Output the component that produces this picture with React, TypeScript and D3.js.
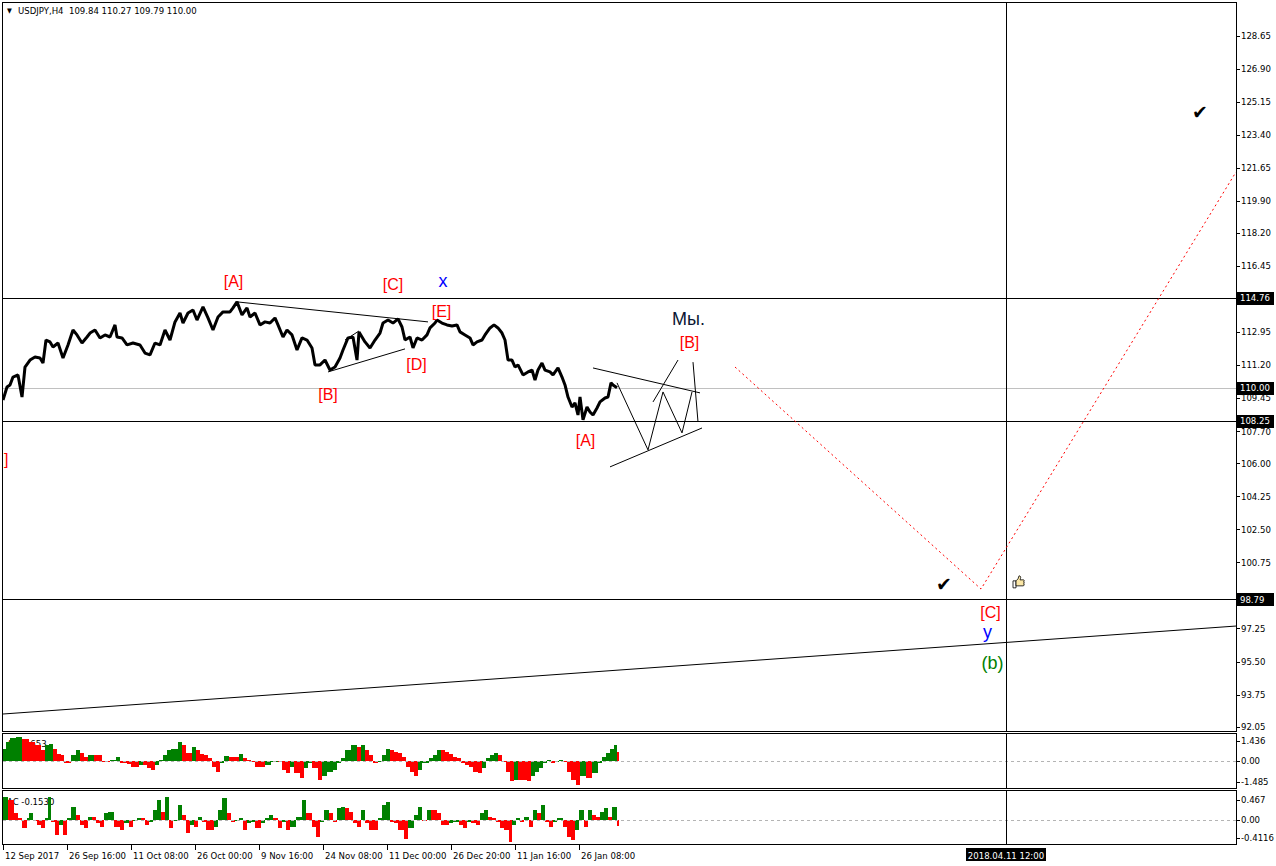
import React from 'react';
import * as d3 from 'd3';

const RED = '#ff0000';
const BLUE = '#0000ff';
const GREEN = '#008000';
const NAVY = '#0b1633';

// [bar index, price]
const priceSeries: [number, number][] = [
  [0,109.35],[4,110.04],[7,110.15],[10,110.57],[15,110.68],[19,109.51],[22,111.10],[27,111.47],[32,111.63],[37,111.58],
  [40,111.31],[43,112.53],[47,112.43],[50,112.16],[55,112.37],[60,111.58],[65,112.27],[70,113.06],[74,112.80],[79,112.37],
  [84,112.69],[87,112.90],[92,113.06],[97,112.64],[102,112.80],[107,112.69],[112,113.33],[114,112.69],[119,112.64],[124,112.27],
  [130,112.37],[137,112.27],[142,111.84],[147,111.74],[152,112.37],[157,112.27],[162,113.06],[167,112.53],[172,113.49],[177,113.96],
  [180,113.43],[185,113.96],[190,114.12],[194,113.59],[200,114.28],[205,113.70],[210,113.06],[215,113.75],[220,114.02],[227,114.02],
  [230,114.23],[234,114.55],[239,113.86],[244,114.23],[247,113.75],[252,113.96],[257,113.33],[262,113.49],[267,113.43],[272,113.70],
  [275,113.33],[280,112.69],[284,113.06],[289,112.80],[294,112.00],[299,112.64],[304,112.53],[309,112.11],[312,111.21],[317,111.21],
  [322,111.47],[327,110.94],[332,111.10],[337,111.58],[340,112.00],[345,112.64],[350,112.69],[354,111.47],[356,112.96],[362,112.43],
  [367,112.11],[372,112.53],[377,112.90],[380,113.43],[385,113.59],[390,113.43],[395,113.65],[399,113.22],[402,112.53],[407,112.69],
  [410,112.11],[414,112.64],[419,112.53],[424,112.80],[427,113.17],[432,113.43],[434,113.59],[439,113.43],[444,113.33],[449,113.27],
  [454,113.33],[457,112.96],[462,112.80],[467,112.64],[470,112.27],[474,112.43],[479,112.53],[482,112.80],[487,113.17],[491,113.33],
  [495,113.17],[499,112.90],[502,112.53],[505,111.47],[509,111.47],[512,111.10],[515,111.21],[520,110.68],[525,110.84],[529,110.94],
  [532,110.41],[535,110.94],[539,111.31],[542,110.94],[547,110.84],[550,110.68],[555,111.05],[559,110.57],[562,110.15],[565,109.51],
  [569,108.98],[572,109.20],[575,108.56],[577,109.51],[580,108.30],[584,108.98],[587,108.72],[590,108.56],[594,108.93],[597,109.25],
  [602,109.46],[605,109.51],[608,110.26],[610,110.15],[614,110.00],
];

// Awesome Oscillator [bar, value]
const aoSeries: [number, number][] = [
  [0,0.89],[3,1.36],[7,1.67],[13,1.71],[19,1.60],[26,1.36],[32,1.13],[38,0.77],[42,1.13],[46,1.24],
  [50,0.89],[54,0.49],[58,0.42],[61,-0.16],[64,-0.16],[68,0.42],[73,0.77],[77,0.54],[81,0.31],[85,0.42],
  [91,0.42],[95,0.42],[99,-0.05],[103,-0.05],[107,0.07],[113,0.26],[117,-0.16],[124,-0.21],[128,-0.40],[136,-0.28],
  [140,-0.28],[144,-0.52],[148,-0.63],[152,-0.28],[156,0.07],[160,0.42],[164,0.77],[168,0.89],[175,1.36],[179,1.13],
  [183,0.54],[189,1.01],[193,0.77],[197,0.49],[201,0.42],[205,0.19],[209,-0.40],[213,-0.75],[217,-0.16],[221,0.35],
  [226,0.31],[232,0.31],[236,0.49],[240,0.19],[244,0.07],[248,-0.09],[252,-0.40],[256,-0.40],[262,-0.28],[268,-0.05],
  [275,-0.05],[279,-0.63],[283,-0.87],[287,-0.40],[291,-0.87],[297,-1.22],[301,-0.52],[305,-0.16],[309,-0.52],[315,-1.34],
  [319,-1.10],[324,-0.75],[330,-0.63],[334,-0.16],[338,0.19],[342,0.77],[348,1.13],[354,1.01],[358,1.13],[362,0.77],
  [366,0.42],[370,-0.16],[375,-0.05],[379,0.42],[383,0.89],[387,0.82],[391,0.66],[395,0.54],[399,0.31],[403,-0.40],
  [407,-0.75],[411,-1.10],[415,-0.63],[419,-0.16],[426,0.19],[430,0.42],[434,0.77],[438,0.77],[442,0.66],[446,0.49],
  [450,0.31],[454,0.19],[458,-0.16],[462,-0.28],[466,-0.40],[470,-0.75],[475,-0.87],[479,-0.52],[483,0.19],[487,0.42],
  [491,0.59],[495,0.42],[499,-0.05],[503,-0.75],[507,-1.46],[511,-1.34],[515,-1.34],[519,-1.34],[524,-1.46],[528,-1.10],
  [532,-0.75],[536,-0.52],[540,-0.16],[544,0.07],[548,-0.16],[552,-0.05],[556,0.07],[560,-0.05],[564,-0.75],[568,-1.34],
  [573,-1.69],[577,-1.10],[583,-1.22],[589,-0.87],[595,-0.16],[599,0.31],[603,0.54],[607,0.89],[611,1.13],[614,0.65],
];

// Accelerator Oscillator [bar, value]
const acSeries: [number, number][] = [
  [0,0.54],[5,0.47],[11,0.16],[15,0.04],[19,-0.19],[24,0.04],[26,0.16],[30,0.00],[34,-0.12],[38,-0.19],
  [42,0.04],[45,0.54],[48,-0.04],[52,-0.35],[56,-0.12],[60,-0.35],[64,0.04],[68,0.31],[73,0.12],[77,-0.12],
  [81,-0.19],[85,0.08],[89,0.08],[93,-0.08],[97,-0.16],[101,0.16],[105,0.19],[111,-0.16],[117,-0.23],[121,-0.08],
  [126,-0.16],[130,0.00],[134,0.04],[138,0.04],[142,-0.12],[146,-0.04],[150,0.23],[154,0.47],[158,0.19],[162,0.54],
  [166,-0.19],[170,0.00],[175,0.35],[179,0.12],[183,-0.31],[187,-0.12],[191,-0.16],[195,0.08],[199,-0.04],[203,-0.23],
  [207,-0.23],[211,-0.16],[215,0.23],[219,0.51],[224,0.16],[228,-0.04],[232,0.00],[236,0.04],[240,-0.23],[244,-0.08],
  [248,-0.04],[252,-0.19],[258,-0.08],[262,0.04],[266,0.12],[270,0.04],[275,-0.19],[279,-0.04],[283,-0.23],[287,-0.16],
  [293,0.08],[299,0.47],[303,0.16],[309,-0.16],[313,-0.39],[317,-0.04],[321,0.23],[326,0.16],[330,-0.04],[334,0.27],
  [338,0.31],[342,0.27],[346,0.19],[350,-0.08],[354,-0.16],[358,0.23],[362,-0.08],[366,-0.23],[370,-0.23],[375,0.04],
  [379,0.35],[383,0.43],[387,-0.04],[391,-0.08],[395,-0.23],[401,-0.43],[405,-0.19],[411,0.12],[415,0.31],[419,0.00],
  [424,0.23],[428,0.23],[434,0.16],[438,-0.12],[442,-0.12],[446,-0.08],[450,-0.04],[456,-0.12],[460,-0.19],[464,-0.04],
  [468,-0.08],[473,-0.12],[477,0.16],[481,0.23],[485,0.08],[489,0.04],[493,-0.04],[497,-0.19],[501,-0.23],[506,-0.51],
  [509,-0.12],[513,0.04],[517,-0.04],[521,0.08],[526,-0.16],[530,0.23],[534,0.16],[538,0.35],[542,-0.04],[546,-0.16],
  [550,-0.04],[554,0.04],[560,-0.16],[564,-0.39],[568,-0.47],[572,-0.23],[576,0.23],[581,-0.16],[585,0.23],[589,0.12],
  [593,0.08],[597,0.19],[601,0.27],[605,0.08],[609,0.31],[614,-0.15],
];

const priceTicks = [128.65,126.90,125.15,123.40,121.65,119.90,118.20,116.45,112.95,111.20,109.45,107.70,106.00,104.25,102.50,100.75,97.25,95.50,93.75,92.05];
const markedLevels = [114.76,110.00,108.25,98.79];
const levelColors = ['#000000','#c0c0c0','#000000','#000000'];
const aoTicks = [1.436,0,-1.485];
const acTicks = [0.467,0,-0.4116];
const dateTickBars = [0,64,128,192,256,320,384,448,512,576];
const dateTickLabels = ['12 Sep 2017','26 Sep 16:00','11 Oct 08:00','26 Oct 00:00','9 Nov 16:00','24 Nov 08:00','11 Dec 00:00','26 Dec 20:00','11 Jan 16:00','26 Jan 08:00'];
const cursorBar = 1003;
const cursorLabel = '2018.04.11 12:00';
const titleText = 'USDJPY,H4  109.84 110.27 109.79 110.00';

// drawn analysis objects [bar, price]
const blackLines: [number, number][][] = [
  [[234,114.55],[425,113.49]],
  [[325,110.84],[402,112.06]],
  [[342,112.53],[356,113.01]],
  [[614,110.26],[645,106.71],[660,109.78],[679,107.61],[689,109.78]],
  [[650,109.25],[675,111.47]],
  [[690,111.36],[695,108.19]],
  [[590,111.05],[697,109.73]],
  [[607,105.81],[699,107.87]],
  [[0,92.72],[1233,97.38]],
];
const forecastPath: [number, number][] = [[732,111.10],[978,99.34],[1233,121.43]];

const labels: { bar: number; price: number; text: string; color: string; size: number; anchor?: string }[] = [
  { bar: 230.5, price: 115.34, text: '[A]', color: RED, size: 16 },
  { bar: 390, price: 115.18, text: '[C]', color: RED, size: 16 },
  { bar: 440, price: 115.34, text: 'x', color: BLUE, size: 18 },
  { bar: 438.5, price: 113.75, text: '[E]', color: RED, size: 16 },
  { bar: 325, price: 109.36, text: '[B]', color: RED, size: 16 },
  { bar: 413.5, price: 110.94, text: '[D]', color: RED, size: 16 },
  { bar: 582.5, price: 106.92, text: '[A]', color: RED, size: 16 },
  { bar: 685.5, price: 113.33, text: 'Мы.', color: NAVY, size: 18 },
  { bar: 686.5, price: 112.11, text: '[B]', color: RED, size: 16 },
  { bar: 1, price: 105.91, text: ']', color: RED, size: 16, anchor: 'start' },
  { bar: 987.5, price: 97.81, text: '[C]', color: RED, size: 16 },
  { bar: 984.5, price: 96.75, text: 'y', color: BLUE, size: 18 },
  { bar: 989.5, price: 95.11, text: '(b)', color: GREEN, size: 18 },
];
const checkMarks: [number, number][] = [[941,99.61],[1197,124.61]];
const thumbMark: [number, number] = [1015, 99.72];

const SMALL = "Tahoma, 'DejaVu Sans Condensed', 'DejaVu Sans', sans-serif";
const BIG = "'Liberation Sans', Arial, sans-serif";

export default function App() {
  const W = 1276, H = 866;
  const L = 3, R = 1236;
  const mainTop = 2, mainBot = 731;
  const aoTop = 734, aoBot = 789;
  const acTop = 791, acBot = 845;

  const x = d3.scaleLinear().domain([0, 1233]).range([L, R]);
  const y = d3.scaleLinear().domain([91.82, 130.435]).range([mainBot, mainTop]);
  const yAO = d3.scaleLinear().domain([-2.0, 1.93]).range([aoBot, aoTop]);
  const yAC = d3.scaleLinear().domain([-0.58, 0.674]).range([acBot, acTop]);

  const line = d3.line<[number, number]>().x(d => x(d[0])).y(d => y(d[1]));
  const px = (v: number) => Math.round(v) + 0.5;

  const hist = (series: [number, number][], ys: d3.ScaleLinear<number, number>) =>
    series.map((d, i) => {
      const x0 = x(d[0]);
      const x1 = i < series.length - 1 ? x(series[i + 1][0]) : x0 + 2;
      const up = i === 0 ? true : d[1] > series[i - 1][1];
      const y0 = ys(0), y1 = ys(d[1]);
      return (
        <rect key={i} x={x0} width={Math.max(1, x1 - x0)} y={Math.min(y0, y1)} height={Math.max(0.5, Math.abs(y1 - y0))}
          fill={up ? GREEN : RED} shapeRendering="crispEdges" />
      );
    });

  const axisLabel = (v: number, ys: (n: number) => number, fmt: string, k: string) => (
    <g key={k}>
      <line x1={R} x2={R + 4} y1={px(ys(v))} y2={px(ys(v))} stroke="#000" shapeRendering="crispEdges" />
      <text x={R + 5} y={ys(v)} dy="0.35em" fontFamily={SMALL} fontSize={9.5} fill="#000">{fmt}</text>
    </g>
  );

  return (
    <svg width={W} height={H} style={{ position: 'absolute', left: 0, top: 0, background: '#fff' }}
      xmlns="http://www.w3.org/2000/svg">
      <defs>
        <clipPath id="mainClip"><rect x={L} y={mainTop} width={R - L} height={mainBot - mainTop} /></clipPath>
      </defs>
      <rect x={0} y={0} width={W} height={H} fill="#fff" />

      {/* main panel */}
      <g clipPath="url(#mainClip)">
        {markedLevels.map((lv, i) => (
          <line key={'lv' + i} x1={L} x2={R} y1={px(y(lv))} y2={px(y(lv))} stroke={levelColors[i]} strokeWidth={1} shapeRendering="crispEdges" />
        ))}
        <line x1={px(x(cursorBar))} x2={px(x(cursorBar))} y1={mainTop} y2={mainBot} stroke="#000" shapeRendering="crispEdges" />
        {blackLines.map((pts, i) => (
          <path key={'bl' + i} d={line(pts) || ''} fill="none" stroke="#000" strokeWidth={1} />
        ))}
        <path d={line(forecastPath) || ''} fill="none" stroke={RED} strokeWidth={1} strokeDasharray="2,3" />
        <path d={line(priceSeries) || ''} fill="none" stroke="#000" strokeWidth={3} strokeLinejoin="bevel" />
        {labels.map((lb, i) => (
          <text key={'lb' + i} x={x(lb.bar)} y={y(lb.price)} textAnchor={lb.anchor || 'middle'} fontFamily={BIG} fontSize={lb.size} fill={lb.color}>{lb.text}</text>
        ))}
        {checkMarks.map((c, i) => (
          <text key={'ck' + i} x={x(c[0])} y={y(c[1])} dy="0.35em" textAnchor="middle" fontFamily="'DejaVu Sans', sans-serif" fontSize={19} fill="#000">✔</text>
        ))}
        <g transform={`translate(${x(thumbMark[0])},${y(thumbMark[1])})`}>
          <path d="M-5,-1 h3 v7 h-3 z" fill="#fff" stroke="#000" strokeWidth={0.8} />
          <path d="M-2,-1 l2,-2 l1,-3 c1.5,0 2,1 1.5,2.5 l-0.5,1.5 h3.5 c1,0 1,2 0,2 c1,0 1,2 0,2 c1,0 1,2 -0.5,2 h-7 z" fill="#fbe7a6" stroke="#000" strokeWidth={0.8} />
        </g>
      </g>
      <rect x={2.5} y={2.5} width={R - 2} height={mainBot - 2} fill="none" stroke="#000" shapeRendering="crispEdges" />

      {/* title */}
      <text x={7} y={13} fontFamily={SMALL} fontSize={7} fill="#000">▼</text>
      <text x={18} y={14} fontFamily={SMALL} fontSize={9.5} fill="#000" style={{ whiteSpace: 'pre' }}>{titleText}</text>

      {/* price axis */}
      {priceTicks.map((t, i) => axisLabel(t, y, t.toFixed(2), 'pt' + i))}
      {markedLevels.map((lv, i) => (
        <g key={'ml' + i}>
          <rect x={R + 1} y={Math.round(y(lv)) - 6} width={37} height={13} fill="#000" />
          <text x={R + 4} y={y(lv)} dy="0.35em" fontFamily={SMALL} fontSize={9.5} fill="#fff">{lv.toFixed(2)}</text>
        </g>
      ))}

      {/* AO panel */}
      <text x={7} y={747} fontFamily={SMALL} fontSize={9.5} fill="#000">AO 0.653</text>
      {hist(aoSeries, yAO)}
      <line x1={L} x2={R} y1={px(yAO(0))} y2={px(yAO(0))} stroke="#b4b4b4" strokeDasharray="3,3" shapeRendering="crispEdges" />
      <line x1={px(x(cursorBar))} x2={px(x(cursorBar))} y1={aoTop} y2={aoBot} stroke="#000" shapeRendering="crispEdges" />
      <rect x={2.5} y={aoTop - 0.5} width={R - 2} height={aoBot - aoTop} fill="none" stroke="#000" shapeRendering="crispEdges" />
      {aoTicks.map((t, i) => axisLabel(t, yAO, t === 0 ? '0.00' : t.toFixed(3), 'ao' + i))}

      {/* AC panel */}
      <text x={7} y={805} fontFamily={SMALL} fontSize={9.5} fill="#000">AC -0.1530</text>
      {hist(acSeries, yAC)}
      <line x1={L} x2={R} y1={px(yAC(0))} y2={px(yAC(0))} stroke="#b4b4b4" strokeDasharray="3,3" shapeRendering="crispEdges" />
      <line x1={px(x(cursorBar))} x2={px(x(cursorBar))} y1={acTop} y2={acBot} stroke="#000" shapeRendering="crispEdges" />
      <rect x={2.5} y={acTop - 0.5} width={R - 2} height={acBot - acTop} fill="none" stroke="#000" shapeRendering="crispEdges" />
      {acTicks.map((t, i) => axisLabel(t, yAC, t === 0 ? '0.00' : (i === 2 ? t.toFixed(4) : t.toFixed(3)), 'ac' + i))}

      {/* time axis */}
      {dateTickBars.map((b, i) => (
        <g key={'dt' + i}>
          <line x1={px(x(b))} x2={px(x(b))} y1={acBot} y2={acBot + 5} stroke="#000" shapeRendering="crispEdges" />
          <text x={x(b) + 2} y={859} fontFamily={SMALL} fontSize={9.5} fill="#000">{dateTickLabels[i]}</text>
        </g>
      ))}
      <rect x={x(cursorBar) - 40} y={848} width={80} height={13} fill="#000" />
      <text x={x(cursorBar)} y={858.5} textAnchor="middle" fontFamily={SMALL} fontSize={9.5} fill="#fff">{cursorLabel}</text>
    </svg>
  );
}
